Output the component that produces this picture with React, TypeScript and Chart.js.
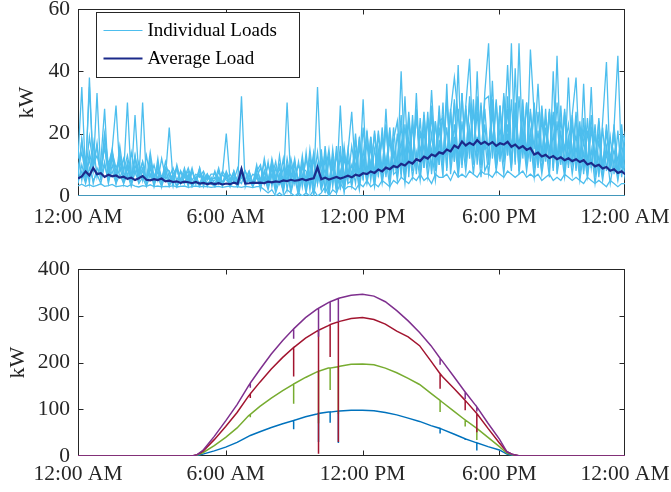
import React, { useEffect, useRef } from 'react';
import { Chart, registerables } from 'chart.js';

Chart.register(...registerables);

// ---------- axis / tick data ----------
const X_MIN = -0.474; // hours (left edge of the plotted day)
const X_MAX = 23.506; // hours (right edge)
const xTickValues = [X_MIN, 6, 12, 18, X_MAX];
const xTickLabels = ['12:00 AM', '6:00 AM', '12:00 PM', '6:00 PM', '12:00 AM'];
const loadTicks = [0, 20, 40, 60];
const pvTicks = [0, 100, 200, 300, 400];

// ---------- top panel: 10-minute samples (kW) ----------
const loadStepHours = 1 / 6;

const loadA = [
  6, 18, 8, 35, 9, 16, 7, 20, 10, 15, 29, 8,
  12, 6, 14, 7, 11, 5, 13, 6, 10, 5, 12, 6,
  22, 5, 9, 4, 8, 5, 9, 4, 8, 5, 7, 4,
  8, 4, 7, 20, 5, 8, 4, 7, 5, 8, 4, 9,
  5, 11, 4, 12, 6, 10, 3, 12, 5, 11, 4, 13,
  3, 15, 5, 14, 2, 16, 4, 13, 3, 29, 5, 15,
  6, 20, 4, 22, 7, 19, 5, 21, 8, 23, 6, 22,
  9, 26, 7, 25, 10, 28, 8, 27, 11, 26, 9, 29,
  10, 31, 12, 30, 9, 33, 11, 32, 13, 31, 10, 33,
  49, 12, 30, 11, 32, 13, 31, 10, 49, 12, 30, 11,
  29, 10, 28, 12, 27, 9, 45, 11, 28, 10, 26, 9,
  24, 8, 25, 9, 23, 7, 24, 43, 8, 22, 7, 23,
  9,
];

const loadB = [
  15, 5, 12, 4, 17, 6, 11, 28, 5, 13, 4, 14,
  4, 11, 5, 13, 4, 30, 5, 10, 4, 12, 3, 9,
  8, 3, 9, 4, 7, 3, 8, 4, 9, 3, 7, 4,
  3, 8, 4, 7, 3, 8, 4, 32, 3, 7, 4, 8,
  10, 4, 11, 3, 9, 5, 12, 2, 10, 4, 11, 3,
  14, 2, 13, 4, 15, 1, 12, 3, 16, 2, 14, 4,
  5, 18, 6, 31, 4, 19, 7, 20, 5, 22, 8, 18,
  24, 6, 23, 8, 26, 7, 25, 9, 27, 8, 24, 10,
  30, 8, 28, 11, 42, 9, 29, 12, 31, 10, 30, 8,
  11, 31, 9, 29, 12, 32, 10, 30, 8, 31, 11, 28,
  9, 27, 11, 28, 8, 26, 10, 29, 9, 38, 11, 27,
  8, 36, 6, 22, 9, 25, 7, 21, 8, 23, 6, 20,
  18,
];

const loadC = [
  5, 8, 4, 9, 5, 7, 4, 10, 5, 8, 4, 7,
  4, 7, 3, 8, 4, 6, 3, 7, 4, 6, 3, 7,
  3, 6, 3, 5, 4, 6, 3, 5, 3, 6, 4, 5,
  3, 5, 4, 6, 3, 5, 3, 6, 4, 5, 3, 6,
  3, 6, 2, 7, 1, 5, 2, 8, 1, 6, 0, 7,
  1, 8, 0, 9, 2, 7, 0, 10, 1, 8, 2, 9,
  3, 10, 2, 12, 4, 11, 3, 13, 4, 12, 3, 14,
  5, 15, 4, 16, 6, 14, 5, 17, 6, 15, 5, 18,
  6, 36, 7, 19, 6, 18, 8, 20, 7, 19, 6, 18,
  7, 19, 8, 18, 7, 20, 8, 41, 7, 19, 8, 18,
  6, 17, 7, 16, 6, 40, 7, 15, 6, 17, 7, 16,
  5, 14, 6, 15, 4, 13, 5, 14, 4, 12, 5, 13,
  5,
];

const loadD = [
  7, 18, 6, 14, 8, 33, 7, 16, 6, 12, 8, 11,
  6, 10, 5, 26, 6, 9, 5, 12, 6, 9, 5, 8,
  5, 7, 9, 4, 6, 8, 4, 6, 7, 4, 6, 5,
  6, 4, 7, 5, 4, 7, 5, 4, 8, 5, 4, 7,
  4, 8, 3, 10, 5, 9, 3, 30, 4, 10, 5, 9,
  8, 3, 12, 4, 11, 2, 13, 5, 14, 3, 12, 6,
  10, 4, 16, 6, 17, 5, 15, 7, 19, 6, 18, 8,
  20, 7, 32, 6, 23, 8, 21, 9, 25, 7, 24, 10,
  26, 9, 27, 11, 28, 10, 29, 44, 12, 27, 10, 28,
  12, 27, 10, 29, 11, 28, 9, 26, 12, 27, 10, 47,
  26, 9, 25, 11, 27, 8, 24, 10, 26, 9, 23, 8,
  22, 7, 21, 9, 20, 6, 22, 8, 19, 7, 21, 6,
  18,
];

const loadE = [
  3.2, 3.8, 3.1, 3.6, 3.0, 3.4, 3.9, 3.1, 3.3, 3.7, 3.0, 3.2,
  3.4, 3.0, 3.7, 3.2, 2.9, 3.3, 3.1, 3.6, 3.0, 3.2, 2.9, 3.1,
  3.0, 3.3, 2.9, 3.1, 3.2, 2.8, 3.0, 3.2, 2.9, 3.1, 3.0, 2.8,
  2.9, 3.1, 2.8, 3.0, 3.2, 2.9, 3.0, 2.8, 3.1, 2.9, 2.7, 3.0,
  3, 2, 1, 2, 0, 1, 0, 2, 1, 0, 1, 0,
  1, 0, 2, 0, 1, 3, 0, 2, 1, 4, 2, 3,
  3, 2, 4, 3, 5, 3, 4, 3, 5, 4, 3, 5,
  4, 6, 5, 4, 6, 5, 7, 5, 6, 4, 7, 6,
  6, 7, 5, 8, 6, 7, 6, 8, 7, 6, 8, 7,
  7, 6, 8, 7, 6, 8, 7, 6, 7, 8, 6, 7,
  6, 7, 5, 6, 7, 5, 6, 5, 7, 6, 5, 6,
  5, 4, 6, 5, 4, 5, 4, 3, 5, 4, 3, 4,
  4,
];

const loadF = [
  12, 35, 6, 38, 9, 17, 5, 20, 8, 15, 6, 16,
  7, 30, 5, 13, 6, 11, 4, 12, 5, 10, 6, 9,
  8, 4, 10, 5, 9, 4, 8, 5, 9, 4, 7, 5,
  5, 9, 4, 8, 5, 7, 4, 9, 5, 8, 4, 10,
  4, 12, 5, 11, 3, 13, 4, 10, 6, 12, 3, 11,
  5, 13, 3, 35, 6, 14, 2, 15, 4, 16, 3, 14,
  27, 7, 19, 5, 21, 8, 20, 6, 22, 9, 21, 7,
  8, 40, 9, 27, 11, 28, 9, 26, 12, 29, 10, 27,
  11, 32, 13, 31, 10, 33, 12, 30, 14, 32, 11, 31,
  32, 14, 31, 12, 33, 13, 49, 11, 32, 14, 30, 12,
  30, 11, 29, 13, 28, 10, 30, 12, 27, 11, 26, 38,
  10, 25, 9, 26, 11, 24, 8, 23, 10, 22, 45, 9,
  21,
];

const loadG = [
  9, 14, 7, 19, 10, 13, 8, 16, 7, 14, 9, 12,
  8, 13, 6, 12, 7, 11, 5, 14, 6, 10, 5, 11,
  6, 9, 5, 8, 6, 9, 5, 7, 6, 8, 5, 7,
  7, 5, 8, 6, 7, 5, 9, 6, 8, 5, 7, 6,
  9, 5, 10, 6, 11, 4, 9, 5, 12, 6, 10, 5,
  12, 6, 14, 5, 13, 7, 15, 4, 13, 6, 16, 5,
  16, 8, 18, 9, 20, 7, 21, 10, 19, 8, 22, 9,
  12, 22, 13, 24, 11, 25, 14, 23, 12, 34, 13, 24,
  25, 13, 27, 38, 26, 14, 28, 16, 27, 14, 29, 15,
  16, 28, 14, 27, 17, 42, 15, 26, 16, 28, 14, 27,
  15, 36, 13, 25, 14, 27, 12, 24, 15, 23, 13, 25,
  12, 21, 11, 22, 13, 20, 10, 21, 12, 19, 11, 20,
  12,
];

const loadH = [
  4, 10, 5, 12, 4, 9, 6, 11, 4, 10, 5, 9,
  5, 9, 4, 10, 5, 8, 4, 9, 3, 8, 4, 9,
  4, 7, 3, 8, 4, 7, 3, 6, 4, 7, 3, 6,
  4, 6, 3, 7, 4, 6, 3, 7, 4, 6, 3, 7,
  2, 8, 3, 9, 2, 7, 1, 9, 2, 8, 1, 10,
  2, 11, 1, 10, 3, 12, 1, 11, 2, 13, 1, 12,
  4, 14, 3, 15, 5, 16, 4, 15, 6, 28, 5, 16,
  7, 18, 6, 19, 8, 33, 7, 21, 9, 20, 8, 22,
  9, 22, 10, 23, 8, 24, 11, 22, 10, 40, 9, 23,
  10, 37, 9, 22, 11, 23, 10, 25, 9, 22, 11, 21,
  9, 21, 8, 22, 10, 20, 9, 21, 8, 19, 10, 20,
  7, 18, 8, 35, 6, 18, 7, 16, 8, 15, 6, 17,
  7,
];

const zeroLoadTimes = [X_MIN, X_MAX];
const zeroLoad = [0, 0];

const averageLoad = [
  5.6, 6.3, 7.9, 6.6, 9.0, 7.0, 7.3, 6.1, 6.8, 6.3, 6.6, 5.9,
  6.2, 5.5, 5.9, 5.1, 5.7, 6.4, 5.2, 5.0, 5.4, 5.1, 5.6, 4.7,
  4.9, 4.5, 4.7, 4.2, 4.6, 4.4, 4.1, 4.5, 4.0, 4.2, 3.8, 4.1,
  3.8, 4.1, 3.7, 4.0, 3.8, 4.3, 3.9, 8.6, 4.0, 4.1, 4.3, 4.2,
  4.3, 4.1, 4.6, 4.4, 4.7, 4.5, 5.0, 4.8, 5.2, 4.9, 5.1, 5.5,
  5.0, 5.4, 5.7, 9.2, 5.4, 5.9, 5.3, 5.7, 6.1, 5.6, 6.0, 6.5,
  6.0, 6.8, 6.5, 7.3, 7.0, 7.9, 7.4, 8.5, 7.9, 9.1, 8.6, 9.6,
  9.2, 10.3, 9.8, 11.0, 10.4, 11.8, 11.2, 12.6, 12.0, 13.3, 12.8, 14.0,
  13.6, 14.9, 14.3, 16.2, 15.4, 17.5, 16.2, 17.1, 16.4, 17.9, 16.7, 17.4,
  16.5, 17.3, 16.1, 16.9, 16.5, 17.4, 15.8, 16.5, 15.3, 16.0, 14.8, 15.4,
  13.3, 13.9, 12.7, 13.2, 12.2, 12.8, 11.8, 12.4, 11.5, 12.1, 11.2, 11.8,
  10.9, 11.5, 10.1, 10.6, 9.5, 10.0, 8.8, 9.3, 8.1, 8.6, 7.4, 7.9,
  6.9,
];

// ---------- bottom panel: PV output (kW) ----------
const pvTimes = [
  -0.474, 4.53, 4.75, 5.0, 5.5, 6.0, 6.5, 7.0, 7.08, 7.08, 7.08, 7.5,
  8.0, 8.5, 8.98, 8.98, 8.98, 9.5, 10.0, 10.07, 10.07, 10.07, 10.5, 10.58,
  10.58, 10.58, 10.94, 10.94, 10.94, 11.0, 11.5, 12.0, 12.5, 13.0, 13.5, 14.0,
  14.5, 15.0, 15.4, 15.4, 15.4, 15.5, 16.0, 16.5, 16.5, 16.5, 17.01, 17.01,
  17.01, 17.5, 18.0, 18.33, 18.6, 18.9, 23.506,
];
const pvSmall = [
  0, 0, 1, 4, 11, 19, 29, 42, 44, 44, 44, 52,
  61, 69, 76, 57, 76, 84, 90, 91, 30, 91, 94, 94,
  71, 94, 96, 28, 96, 96, 98, 98, 97, 93, 88, 81,
  74, 65, 59, 48, 59, 57, 47, 37, 34, 37, 28, 12,
  28, 20, 13, 4, 1, 0, 0,
];
const pvMedium = [
  0, 0, 2, 7, 22, 40, 60, 86, 89, 83, 89, 106,
  124, 140, 154, 112, 154, 168, 180, 181, 70, 181, 188, 188,
  141, 188, 191, 90, 191, 192, 196, 197, 195, 188, 178, 166,
  153, 134, 119, 94, 119, 115, 96, 77, 63, 77, 59, 34,
  59, 40, 20, 6, 2, 0, 0,
];
const pvLarge = [
  0, 0, 3, 10, 35, 63, 93, 128, 133, 124, 133, 158,
  186, 211, 232, 170, 232, 252, 267, 269, 5, 269, 279, 281,
  212, 281, 287, 30, 287, 288, 294, 296, 292, 282, 267, 255,
  236, 203, 176, 144, 176, 170, 145, 119, 98, 119, 91, 51,
  91, 59, 28, 9, 3, 0, 0,
];
const pvXLarge = [
  0, 0, 3, 12, 42, 75, 110, 150, 156, 146, 156, 185,
  218, 247, 272, 251, 272, 296, 314, 316, 255, 316, 328, 330,
  287, 330, 337, 287, 337, 338, 344, 346, 342, 330, 311, 289,
  264, 236, 209, 195, 209, 203, 170, 137, 122, 137, 105, 95,
  105, 70, 36, 9, 3, 0, 0,
];

// ---------- styles ----------
const SERIF = "'Liberation Serif', 'Times New Roman', serif";
const AXIS = '#262626';
const LIGHT_BLUE = '#4DBEEE';
const DARK_BLUE = '#1B2A8A';
const PV_COLORS = { small: '#0072BD', medium: '#77AC30', large: '#A2142F', xlarge: '#7E2F8E' };

const toPoints = (times: number[], values: number[]) =>
  values.map((y, i) => ({ x: times[i], y }));
const loadTimes = (values: number[]) => values.map((_, i) => X_MIN + i * loadStepHours);

const boxPlugin = {
  id: 'matlabBox',
  beforeDatasetsDraw(chart: any) {
    const { ctx, chartArea: a } = chart;
    const xs = chart.scales.x;
    const ys = chart.scales.y;
    const l = Math.round(a.left) + 0.5;
    const r = Math.round(a.right) - 0.5;
    const t = Math.round(a.top) + 0.5;
    const b = Math.round(a.bottom) - 0.5;
    ctx.save();
    ctx.strokeStyle = AXIS;
    ctx.lineWidth = 1;
    ctx.strokeRect(l, t, r - l, b - t);
    ctx.beginPath();
    xs.ticks.forEach((tk: any) => {
      const px = Math.round(xs.getPixelForValue(tk.value)) + 0.5;
      if (px <= l + 2 || px >= r - 2) return;
      ctx.moveTo(px, b); ctx.lineTo(px, b - 5);
      ctx.moveTo(px, t); ctx.lineTo(px, t + 5);
    });
    ys.ticks.forEach((tk: any) => {
      const py = Math.round(ys.getPixelForValue(tk.value)) + 0.5;
      if (py <= t + 2 || py >= b - 2) return;
      ctx.moveTo(l, py); ctx.lineTo(l + 5, py);
      ctx.moveTo(r, py); ctx.lineTo(r - 5, py);
    });
    ctx.stroke();
    ctx.restore();
  },
};

const insetLegendPlugin = {
  id: 'insetLegend',
  afterDatasetsDraw(chart: any) {
    const { ctx, chartArea: a } = chart;
    const seen: Record<string, boolean> = {};
    const entries: { label: string; color: string; width: number }[] = [];
    chart.data.datasets.forEach((ds: any) => {
      if (ds.label && !seen[ds.label]) {
        seen[ds.label] = true;
        entries.push({ label: ds.label, color: ds.borderColor, width: ds.legendWidth || ds.borderWidth });
      }
    });
    const x0 = Math.round(a.left) + 18.5;
    const y0 = Math.round(a.top) + 3.5;
    const w = 203;
    const h = 65;
    ctx.save();
    ctx.fillStyle = '#ffffff';
    ctx.fillRect(x0, y0, w, h);
    ctx.strokeStyle = AXIS;
    ctx.lineWidth = 1;
    ctx.strokeRect(x0, y0, w, h);
    ctx.font = `19px ${SERIF}`;
    ctx.textBaseline = 'middle';
    ctx.textAlign = 'left';
    entries.forEach((e, i) => {
      const y = y0 + 18 + i * 28;
      ctx.strokeStyle = e.color;
      ctx.lineWidth = e.width;
      ctx.beginPath();
      ctx.moveTo(x0 + 7, y);
      ctx.lineTo(x0 + 46, y);
      ctx.stroke();
      ctx.fillStyle = '#000000';
      ctx.fillText(e.label, x0 + 51, y + 1);
    });
    ctx.restore();
  },
};

const xScale = (axisHeight: number, labelPad: number) => ({
  type: 'linear',
  min: X_MIN,
  max: X_MAX,
  bounds: 'data',
  afterBuildTicks: (s: any) => {
    s.ticks = xTickValues.map((v) => ({ value: v }));
  },
  afterFit: (s: any) => {
    s.height = axisHeight;
    s.paddingLeft = 0;
    s.paddingRight = 0;
  },
  ticks: {
    autoSkip: false,
    maxRotation: 0,
    minRotation: 0,
    padding: labelPad,
    color: AXIS,
    font: { family: SERIF, size: 21.5 },
    callback: (_v: any, i: number) => xTickLabels[i],
  },
  grid: { display: false, drawTicks: false },
  border: { display: false },
});

const yScale = (ticks: number[], titlePad: number) => ({
  type: 'linear',
  min: ticks[0],
  max: ticks[ticks.length - 1],
  afterBuildTicks: (s: any) => {
    s.ticks = ticks.map((v) => ({ value: v }));
  },
  afterFit: (s: any) => {
    s.width = 78;
    s.paddingTop = 0;
    s.paddingBottom = 0;
  },
  ticks: {
    padding: 8,
    color: AXIS,
    font: { family: SERIF, size: 21.5 },
  },
  title: {
    display: true,
    text: 'kW',
    color: AXIS,
    font: { family: SERIF, size: 22 },
    padding: { top: titlePad, bottom: 0 },
  },
  grid: { display: false, drawTicks: false },
  border: { display: false },
});

const lineDs = (label: string, points: any[], color: string, width: number, order: number, legendWidth?: number) => ({
  label,
  data: points,
  borderColor: color,
  backgroundColor: color,
  borderWidth: width,
  legendWidth,
  pointRadius: 0,
  pointHoverRadius: 0,
  tension: 0,
  fill: false,
  order,
});

const commonOptions = (padTop: number) => ({
  responsive: false,
  animation: false,
  devicePixelRatio: 1,
  events: [],
  layout: { padding: { top: padTop, right: 46, left: 0, bottom: 0 } },
  plugins: { legend: { display: false }, tooltip: { enabled: false }, title: { display: false } },
});

function topConfig(): any {
  const individual = [loadA, loadB, loadC, loadD, loadE, loadF, loadG, loadH];
  const datasets: any[] = individual.map((vals) =>
    lineDs('Individual Loads', toPoints(loadTimes(vals), vals), LIGHT_BLUE, 1.3, 2, 1),
  );
  datasets.push(lineDs('Individual Loads', toPoints(zeroLoadTimes, zeroLoad), LIGHT_BLUE, 1.5, 3, 1));
  datasets.push(lineDs('Average Load', toPoints(loadTimes(averageLoad), averageLoad), DARK_BLUE, 2.2, 0, 2));
  return {
    type: 'line',
    data: { datasets },
    options: {
      ...commonOptions(9),
      scales: { x: xScale(50, 8), y: yScale(loadTicks, 14) },
    },
    plugins: [boxPlugin, insetLegendPlugin],
  };
}

function bottomConfig(): any {
  const datasets = [
    lineDs('PV 1', toPoints(pvTimes, pvSmall), PV_COLORS.small, 1.5, 3),
    lineDs('PV 2', toPoints(pvTimes, pvMedium), PV_COLORS.medium, 1.5, 2),
    lineDs('PV 3', toPoints(pvTimes, pvLarge), PV_COLORS.large, 1.5, 1),
    lineDs('PV 4', toPoints(pvTimes, pvXLarge), PV_COLORS.xlarge, 1.5, 0),
  ];
  return {
    type: 'line',
    data: { datasets },
    options: {
      ...commonOptions(23),
      scales: { x: xScale(36, 5), y: yScale(pvTicks, 5) },
    },
    plugins: [boxPlugin],
  };
}

export default function App() {
  const topRef = useRef<HTMLCanvasElement | null>(null);
  const bottomRef = useRef<HTMLCanvasElement | null>(null);

  useEffect(() => {
    const top = new Chart(topRef.current as HTMLCanvasElement, topConfig());
    const bottom = new Chart(bottomRef.current as HTMLCanvasElement, bottomConfig());
    return () => {
      top.destroy();
      bottom.destroy();
    };
  }, []);

  return (
    <div style={{ position: 'absolute', left: 0, top: 0, width: 671, height: 492, background: '#ffffff' }}>
      <canvas ref={topRef} width={671} height={246} style={{ position: 'absolute', left: 0, top: 0 }} />
      <canvas ref={bottomRef} width={671} height={246} style={{ position: 'absolute', left: 0, top: 246 }} />
    </div>
  );
}
